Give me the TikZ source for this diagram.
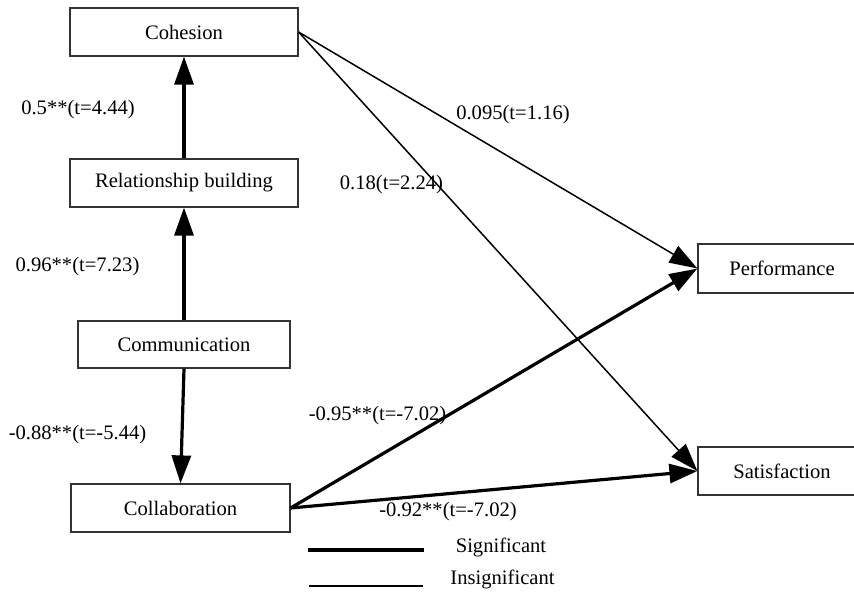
\documentclass[tikz,border=0pt]{standalone}
\usepackage{fontspec}
\setmainfont{Liberation Serif}
\usetikzlibrary{arrows.meta}
\begin{document}
\begin{tikzpicture}[x=0.5pt,y=-0.5pt,
  font=\fontsize{10.3}{12}\selectfont,
  construct/.style={draw=black!80,line width=0.6pt,rectangle,inner sep=0pt,fill=white},
  tip/.style={-{Triangle[length=14pt,width=9.5pt]}},
  sig/.style={tip,line width=1.6pt},
  insig/.style={tip,line width=0.75pt},
  coef/.style={inner sep=0pt}]
\useasboundingbox (0,0) rectangle (854,594);
\clip (0,0) rectangle (854,594);

% constructs
\node[construct,minimum width=114pt,minimum height=24pt] (coh) at (184,32) {Cohesion};
\node[construct,minimum width=114pt,minimum height=24pt] (rel) at (184,183) {Relationship building};
\node[construct,minimum width=106pt,minimum height=23.5pt] (com) at (184,344.5) {Communication};
\node[construct,minimum width=109.5pt,minimum height=24pt] (col) at (180.5,508) {Collaboration};
\node[construct,minimum width=84pt,minimum height=24.5pt] (per) at (782,268.5) {Performance};
\node[construct,minimum width=84pt,minimum height=24pt] (sat) at (782,471) {Satisfaction};

% paths
\draw[sig] (rel.north) -- (coh.south);
\draw[sig] (com.north) -- (rel.south);
\draw[sig] (com.south) -- (col.north);
\draw[insig] (coh.east) -- (per.west);
\draw[insig] (coh.east) -- (sat.west);
\draw[sig] (col.east) -- (per.west);
\draw[sig] (col.east) -- (sat.west);

% path coefficients
\node[coef] (c1) at (78,110) {0.5**(t=4.44)};
\node[coef] (c2) at (77.5,267) {0.96**(t=7.23)};
\node[coef] (c3) at (77.5,435) {-0.88**(t=-5.44)};
\node[coef] (c4) at (513,115) {0.095(t=1.16)};
\node[coef] (c5) at (391.5,185) {0.18(t=2.24)};
\node[coef] (c6) at (377.5,416) {-0.95**(t=-7.02)};
\node[coef] (c7) at (448,512) {-0.92**(t=-7.02)};

% legend
\coordinate (ls1) at (308,550);
\coordinate (ls2) at (424,550);
\coordinate (li1) at (309,586);
\coordinate (li2) at (423,586);
\draw[line width=1.6pt] (ls1) -- (ls2);
\draw[line width=0.75pt] (li1) -- (li2);
\node[coef] (lsig) at (501,547) {Significant};
\node[coef] (lins) at (502.5,579) {Insignificant};
\end{tikzpicture}
\end{document}
